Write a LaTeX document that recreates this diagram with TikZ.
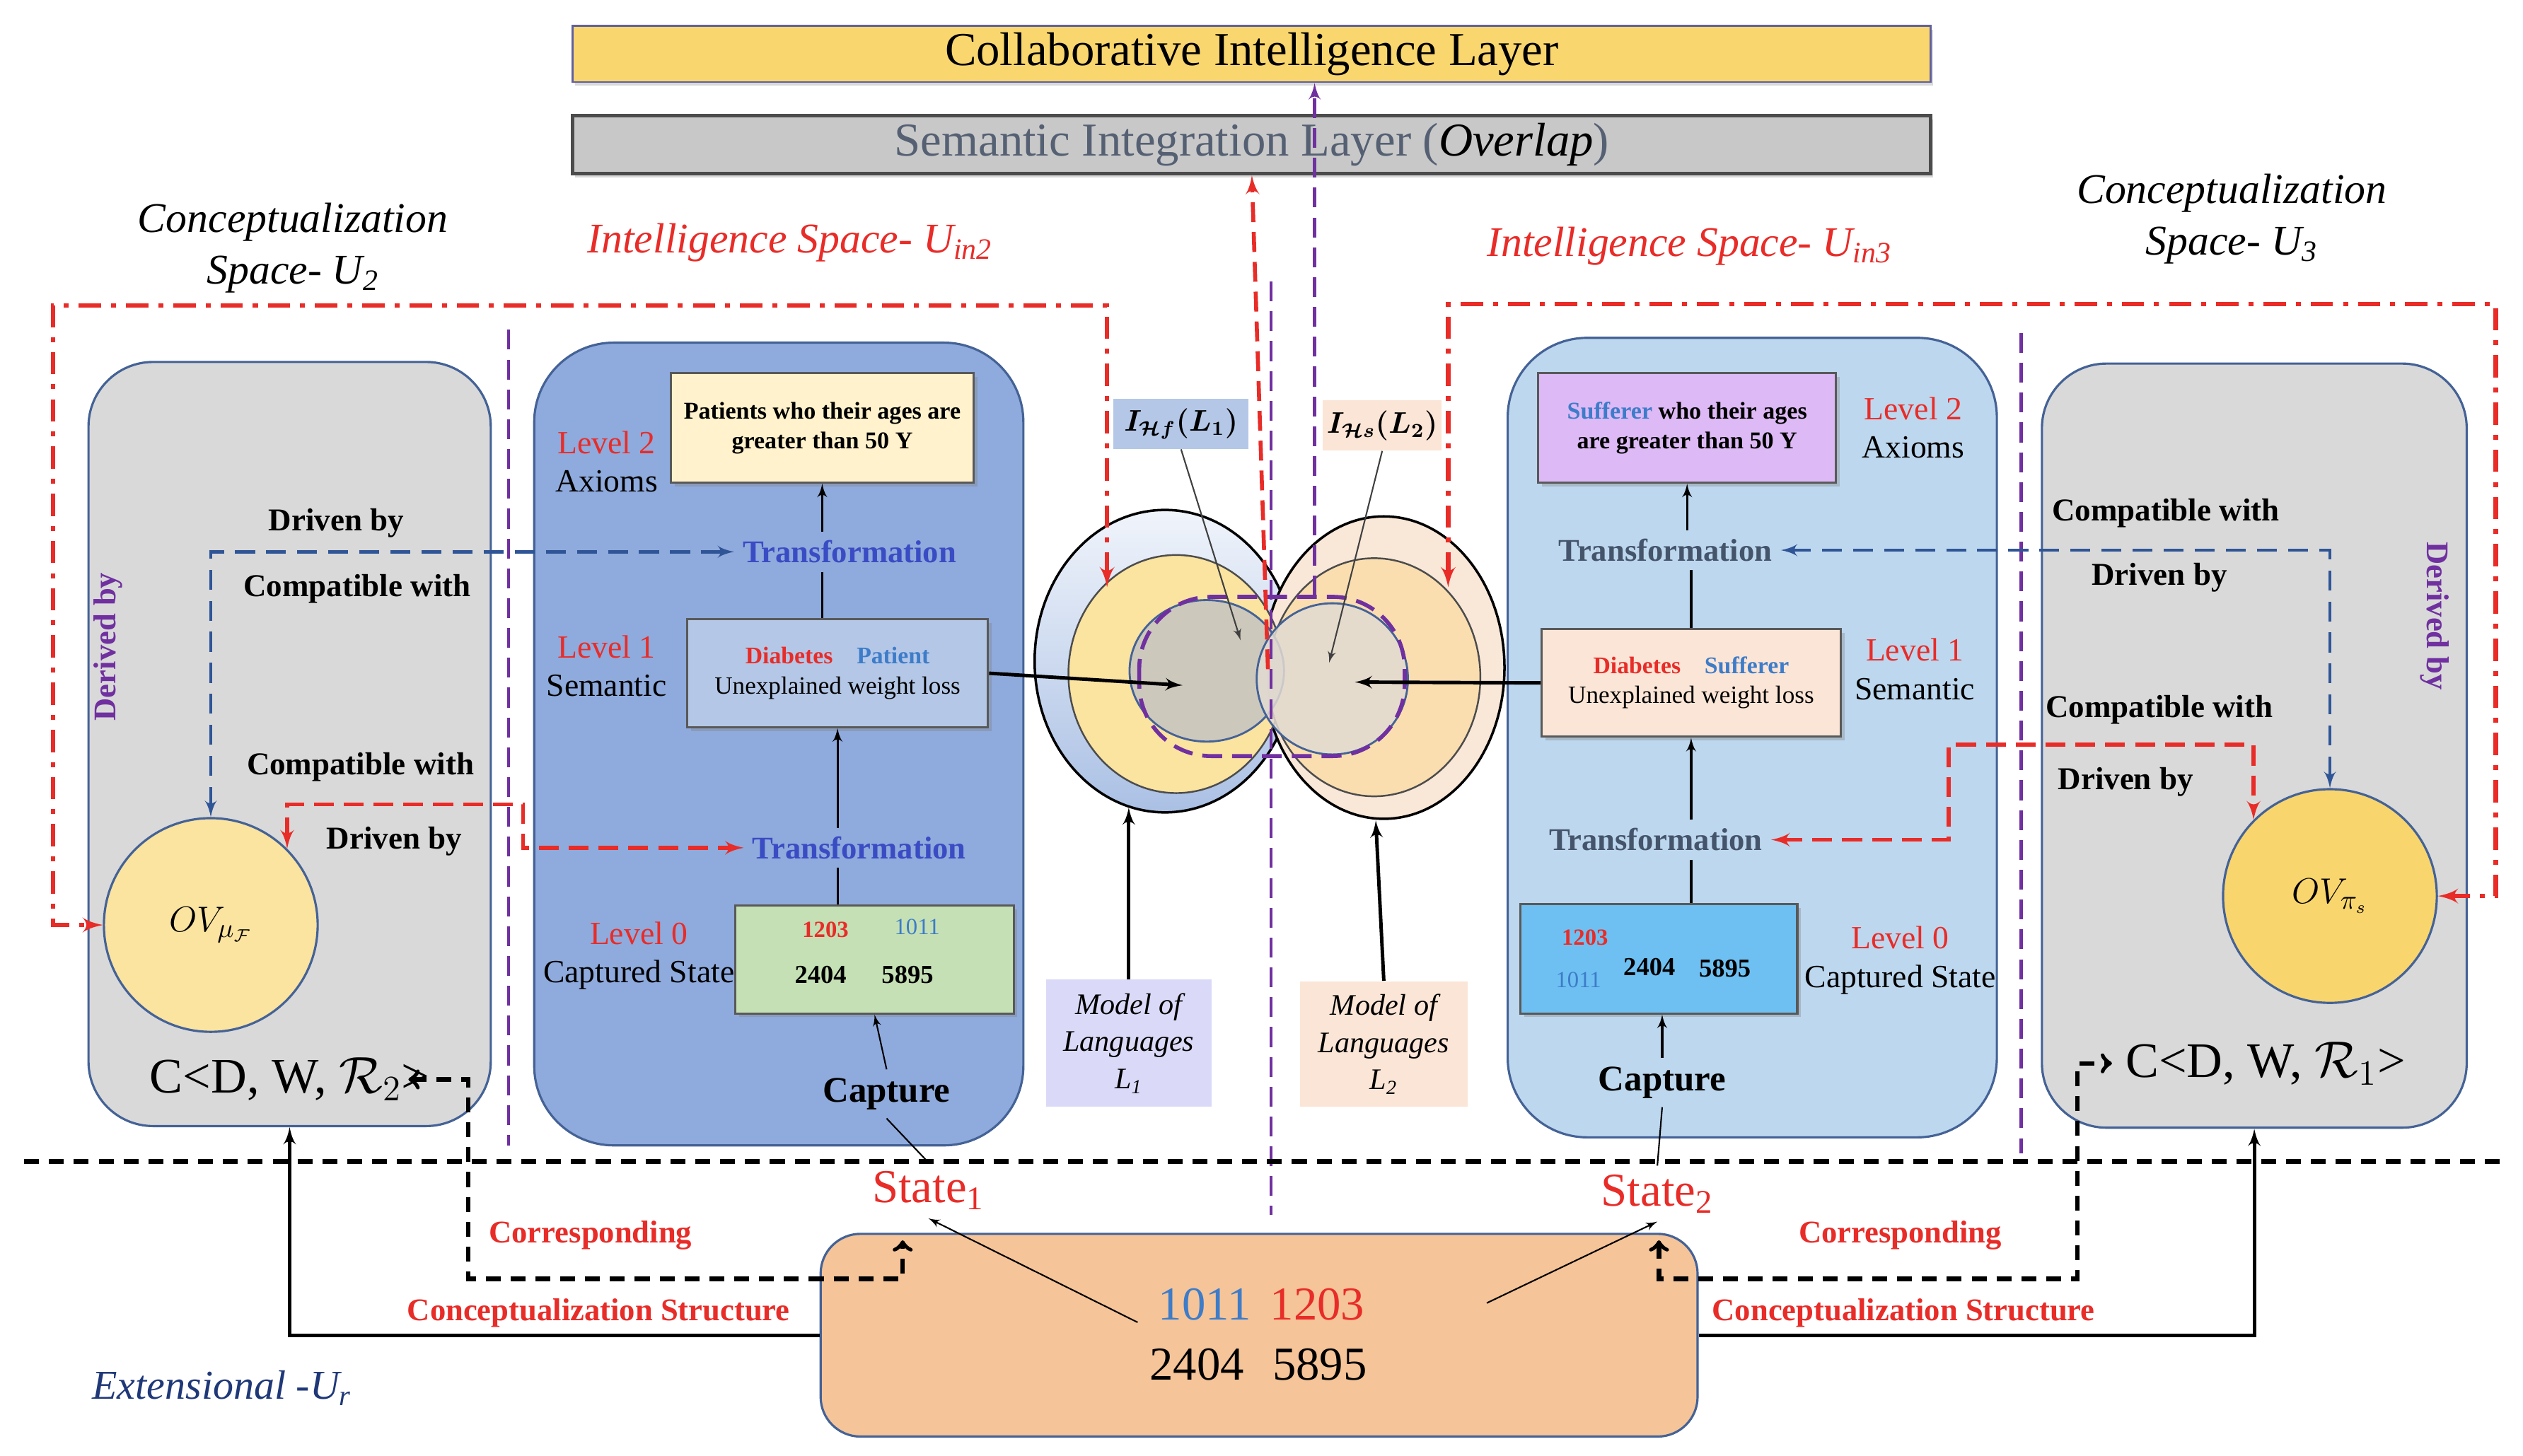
\documentclass[tikz,border=0pt]{standalone}
\usepackage{fontspec}
\setmainfont{Liberation Serif}
\usepackage{amsmath}
\usetikzlibrary{arrows,positioning,fit,shadows}

\definecolor{redT}{RGB}{232,44,40}
\definecolor{blueT}{RGB}{58,76,196}
\definecolor{slateT}{RGB}{68,84,106}
\definecolor{skyT}{RGB}{61,124,201}
\definecolor{purpT}{RGB}{112,48,160}
\definecolor{navyT}{RGB}{31,56,120}
\definecolor{dashB}{RGB}{47,85,151}
\definecolor{boxEdge}{RGB}{68,98,150}
\definecolor{grayBox}{RGB}{217,217,217}
\definecolor{blueMid}{RGB}{143,170,220}
\definecolor{blueLt}{RGB}{189,215,238}
\definecolor{yellowL}{RGB}{249,214,110}
\definecolor{layerG}{RGB}{200,200,200}
\definecolor{layerT}{RGB}{85,96,115}
\definecolor{cream}{RGB}{255,242,204}
\definecolor{paleBlue}{RGB}{180,199,231}
\definecolor{mint}{RGB}{197,224,180}
\definecolor{peach}{RGB}{251,229,214}
\definecolor{lilac}{RGB}{221,185,245}
\definecolor{sky}{RGB}{110,192,242}
\definecolor{orangeB}{RGB}{245,196,152}
\definecolor{lav}{RGB}{218,218,248}
\definecolor{ltTop}{RGB}{240,244,251}
\definecolor{ltBot}{RGB}{170,192,228}
\definecolor{peachC}{RGB}{249,231,216}
\definecolor{yellowC}{RGB}{251,227,160}
\definecolor{yellowP}{RGB}{250,222,176}
\definecolor{grayC}{RGB}{200,198,192}
\definecolor{beigeC}{RGB}{226,219,210}
\definecolor{yellowOV}{RGB}{249,213,110}

\tikzset{font=\fontsize{13}{15.5}\selectfont}
\tikzset{
  spaceframe/.style={draw=redT, line width=1.8pt, dash pattern=on 9pt off 4pt on 2pt off 4pt},
  rdash/.style={draw=redT, line width=1.6pt, dash pattern=on 8pt off 4pt},
  bdash/.style={draw=dashB, line width=1.3pt, dash pattern=on 8pt off 4.5pt},
  pdash/.style={draw=purpT, line width=1.3pt, dash pattern=on 8pt off 4pt},
  kdash/.style={draw=black, line width=1.8pt, dash pattern=on 6pt off 4pt},
  spacebox/.style={draw=boxEdge, line width=0.9pt, inner sep=0pt},
  infobox/.style={draw=black!65, line width=0.9pt, inner sep=0pt,
    drop shadow={opacity=0.35, shadow xshift=1.5pt, shadow yshift=-1.5pt}},
  boxtxt/.style={align=center, inner sep=0pt},
  lvltxt/.style={align=center, font=\fontsize{13}{15.5}\selectfont},
  reltxt/.style={font=\fontsize{12.8}{15}\selectfont\bfseries},
  transtxt/.style={font=\fontsize{12.7}{15}\selectfont\bfseries},
  titletxt/.style={align=center, font=\fontsize{17}{20.7}\selectfont\itshape},
  redlbl/.style={text=redT, font=\fontsize{12.7}{15}\selectfont\bfseries},
  numtxt/.style={font=\fontsize{10.4}{12}\selectfont\bfseries, inner sep=0pt},
  modeltxt/.style={boxtxt, font=\fontsize{12}{15}\selectfont\itshape},
  ovcircle/.style={circle, draw=boxEdge, line width=0.9pt, minimum size=86pt, inner sep=0pt,
    font=\fontsize{15}{18}\selectfont},
  tupletxt/.style={font=\fontsize{20}{24}\selectfont},
  statetxt/.style={text=redT, font=\fontsize{19}{22}\selectfont},
  capturetxt/.style={font=\fontsize{14.5}{17}\selectfont\bfseries},
  derivtxt/.style={text=purpT, font=\fontsize{12.7}{15}\selectfont\bfseries},
}

\begin{document}
\begin{tikzpicture}[x=0.02275cm, y=-0.02275cm]
\useasboundingbox (0,0) rectangle (1568,905);

% layers
\node[fit={(356,16) (1200,51)}, inner sep=0pt, fill=yellowL, draw=blue!25!gray, line width=0.8pt,
  drop shadow={opacity=0.3, shadow xshift=1pt, shadow yshift=-1.5pt}] (layerCI) {};
\node[boxtxt, font=\fontsize{19}{22}\selectfont] (layerCIt) at (layerCI.center) {Collaborative Intelligence Layer};
\node[fit={(356,72) (1200,108)}, inner sep=0pt, fill=layerG, draw=black!70, line width=1.4pt,
  drop shadow={opacity=0.3, shadow xshift=1pt, shadow yshift=-1.5pt}] (layerSI) {};
\node[boxtxt, text=layerT, font=\fontsize{19}{22}\selectfont] (layerSIt) at (layerSI.center) {Semantic Integration Layer ({\color{black}\itshape Overlap})};

% titles
\node[titletxt] (cs2) at (182,154) {Conceptualization\\Space- U\textsubscript{2}};
\node[titletxt, text=redT] (isL) at (491,151) {Intelligence Space- U\textsubscript{in2}};
\node[titletxt, text=redT] (isR) at (1050,153) {Intelligence Space- U\textsubscript{in3}};
\node[titletxt] (cs3) at (1387,136) {Conceptualization\\Space- U\textsubscript{3}};

% spaces
\node[spacebox, fit={(55,225) (305,700)}, rounded corners=26pt, fill=grayBox] (grayL) {};
\node[spacebox, fit={(332,213) (636,712)}, rounded corners=32pt, fill=blueMid] (blueL) {};
\node[spacebox, fit={(937,210) (1241,707)}, rounded corners=32pt, fill=blueLt] (blueR) {};
\node[spacebox, fit={(1269,226) (1533,701)}, rounded corners=26pt, fill=grayBox] (grayR) {};
\node[spacebox, fit={(510,767) (1055,893)}, rounded corners=16pt, fill=orangeB] (orng) {};

% overlapping languages
\coordinate (cLo) at (724,411);
\coordinate (cRo) at (860,415);
\coordinate (cLy) at (731,419);
\coordinate (cRy) at (854,421);
\coordinate (cLi) at (750,417);
\coordinate (cRi) at (828,422);
\path[draw=black, line width=1pt, top color=ltTop, bottom color=ltBot] (cLo) ellipse [x radius=81, y radius=94];
\path[draw=black, line width=1pt, fill=peachC] (cRo) ellipse [x radius=75, y radius=94];
\path[draw=black!70, line width=0.7pt, fill=yellowC] (cLy) ellipse [x radius=67, y radius=74];
\path[draw=black!70, line width=0.7pt, fill=yellowP] (cRy) ellipse [x radius=66, y radius=74];
\path[draw=boxEdge, line width=0.8pt, fill=grayC, fill opacity=0.9] (cLi) ellipse [x radius=48, y radius=44];
\path[draw=boxEdge, line width=0.8pt, fill=beigeC, fill opacity=0.85] (cRi) ellipse [x radius=47, y radius=47];
\draw[pdash, line width=1.6pt, rounded corners=29pt] (708,371) rectangle (873,470);

% dividers
\draw[pdash] (316,205) -- (316,712);
\draw[pdash] (790,175) -- (790,755);
\draw[pdash] (1256,207) -- (1256,717);
\draw[kdash] (15,722) -- (1555,722);

% to the layers
\coordinate (ovlRed) at (788,416);
\coordinate (ovlPur) at (817,370);
\draw[rdash, -latex'] (ovlRed) -- (layerSI.south);
\draw[pdash, -latex'] (ovlPur) -- (ovlPur |- layerCI.south);

% interpretations
\node[fit={(692,248) (776,279)}, inner sep=0pt, fill=paleBlue] (ihf) {};
\node[boxtxt, font=\fontsize{12}{14}\selectfont\boldmath] (ihft) at (ihf.center) {$I_{\mathcal{H}f}(L_1)$};
\node[fit={(822,249) (896,280)}, inner sep=0pt, fill=peach] (ihs) {};
\node[boxtxt, font=\fontsize{12}{14}\selectfont\boldmath] (ihst) at (ihs.center) {$I_{\mathcal{H}s}(L_2)$};
\coordinate (ihfTip) at (771,398);
\coordinate (ihsTip) at (826,412);
\draw[-latex', line width=0.6pt, black!75] (ihf.south) -- (ihfTip);
\draw[-latex', line width=0.6pt, black!75] (ihs.south) -- (ihsTip);

% models of languages
\node[fit={(650,609) (753,688)}, inner sep=0pt, fill=lav] (mdL) {};
\node[modeltxt] (mdLt) at (mdL.center) {Model of\\Languages\\L\textsubscript{1}};
\node[fit={(808,610) (912,688)}, inner sep=0pt, fill=peach] (mdR) {};
\node[modeltxt] (mdRt) at (mdR.center) {Model of\\Languages\\L\textsubscript{2}};
\coordinate (cLoB) at (701.5,502);
\coordinate (cRoB) at (855,510);
\draw[line width=1.4pt, -latex'] (mdL.north) -- (cLoB);
\draw[line width=1.4pt, -latex'] (mdR.north) -- (cRoB);

% intelligence space U_in2
\node[lvltxt] (lv2L) at (377,287) {{\color{redT}Level 2}\\Axioms};
\node[infobox, fit={(417,232) (605,300)}, fill=cream] (axL) {};
\node[boxtxt, font=\fontsize{9.7}{12}\selectfont\bfseries] (axLt) at (axL.center) {Patients who their ages are\\greater than 50 Y};
\node[transtxt, text=blueT] (trL1) at (528,343) {Transformation};
\node[lvltxt] (lv1L) at (377,414) {{\color{redT}Level 1}\\Semantic};
\node[infobox, fit={(427,385) (614,452)}, fill=paleBlue] (semL) {};
\node[boxtxt, font=\fontsize{10}{12}\selectfont] (semLt) at (semL.center)
  {{\fontsize{9.6}{12}\selectfont\bfseries\color{redT}Diabetes\quad\color{skyT}Patient}\\Unexplained weight loss};
\node[transtxt, text=blueT] (trL2) at (534,527) {Transformation};
\node[lvltxt] (lv0L) at (397,594) {{\color{redT}Level 0}\\Captured State};
\node[infobox, fit={(457,563) (630,630)}, fill=mint] (capL) {};
\node[numtxt, text=redT, font=\fontsize{9.3}{11}\selectfont\bfseries] (cl1) at (513,578) {1203};
\node[numtxt, text=skyT, font=\fontsize{9.3}{11}\selectfont] (cl2) at (570,576) {1011};
\node[numtxt] (cl3) at (510,606) {2404};
\node[numtxt] (cl4) at (564,606) {5895};
\node[capturetxt] (cptL) at (551,680) {Capture};

\draw[line width=0.9pt, -latex'] (axL.south |- trL1.north) -- (axL.south);
\draw[line width=0.9pt] (axL.south |- trL1.south) -- (axL.south |- semL.north);
\draw[line width=0.9pt, -latex'] (semL.south |- trL2.north) -- (semL.south);
\draw[line width=0.9pt] (semL.south |- trL2.south) -- (semL.south |- capL.north);
\draw[line width=0.6pt, -latex'] (cptL.north) -- (capL.south);
\coordinate (tipL) at (735,426);
\draw[line width=1.4pt, -latex'] (semL.east) -- (tipL);

% conceptualization space U_2
\node[derivtxt, rotate=90] (derL) at (67,402) {Derived by};
\node[reltxt] (drv1) at (209,325) {Driven by};
\node[reltxt] (cmp1) at (222,366) {Compatible with};
\node[reltxt] (cmp2) at (224,477) {Compatible with};
\node[reltxt] (drv2) at (245,523) {Driven by};
\node[ovcircle, fill=yellowC] (ovL) at (131,575) {$OV_{\mu_{\mathcal{F}}}$};
\node[tupletxt] (csL) at (180,671) {C<D, W, $\mathcal{R}_2$>};

\draw[bdash, latex'-latex'] (ovL.north) |- (trL1.west);
\draw[rdash, latex'-latex'] (ovL.45) |- (325,500) |- (trL2.west);
\coordinate (ringL) at (688,365);
\draw[spaceframe, latex'-latex'] (ringL) |- (33,190) |- (ovL.west);

% intelligence space U_in3
\node[infobox, fit={(956,232) (1141,300)}, fill=lilac] (axR) {};
\node[boxtxt, font=\fontsize{9.7}{12}\selectfont\bfseries] (axRt) at (axR.center) {{\color{skyT}Sufferer} who their ages\\are greater than 50 Y};
\node[lvltxt] (lv2R) at (1189,266) {{\color{redT}Level 2}\\Axioms};
\node[transtxt, text=slateT] (trR1) at (1035,342) {Transformation};
\node[infobox, fit={(958,391) (1144,458)}, fill=peach] (semR) {};
\node[boxtxt, font=\fontsize{10}{12}\selectfont] (semRt) at (semR.center)
  {{\fontsize{9.6}{12}\selectfont\bfseries\color{redT}Diabetes\quad\color{skyT}Sufferer}\\Unexplained weight loss};
\node[lvltxt] (lv1R) at (1190,416) {{\color{redT}Level 1}\\Semantic};
\node[transtxt, text=slateT] (trR2) at (1029,522) {Transformation};
\node[infobox, fit={(945,562) (1117,630)}, fill=sky] (capR) {};
\node[numtxt, text=redT, font=\fontsize{9.3}{11}\selectfont\bfseries] (cr1) at (985,583) {1203};
\node[numtxt, text=skyT, font=\fontsize{9.3}{11}\selectfont] (cr2) at (981,609) {1011};
\node[numtxt] (cr3) at (1025,601) {2404};
\node[numtxt] (cr4) at (1072,602) {5895};
\node[lvltxt] (lv0R) at (1181,597) {{\color{redT}Level 0}\\Captured State};
\node[capturetxt] (cptR) at (1033,673) {Capture};

\draw[line width=0.9pt, -latex'] (axR.south |- trR1.north) -- (axR.south);
\draw[line width=0.9pt] (semR.north |- trR1.south) -- (semR.north);
\draw[line width=0.9pt, -latex'] (semR.south |- trR2.north) -- (semR.south);
\draw[line width=0.9pt] (semR.south |- trR2.south) -- (semR.south |- capR.north);
\draw[line width=0.9pt, -latex'] (cptR.north) -- (cptR.north |- capR.south);
\coordinate (tipR) at (842,424);
\draw[line width=1.4pt, -latex'] (semR.west) -- (tipR);

% conceptualization space U_3
\node[derivtxt, rotate=-90] (derR) at (1513,383) {Derived by};
\node[reltxt] (cmp3) at (1346,319) {Compatible with};
\node[reltxt] (drv3) at (1342,359) {Driven by};
\node[reltxt] (cmp4) at (1342,441) {Compatible with};
\node[reltxt] (drv4) at (1321,486) {Driven by};
\node[ovcircle, fill=yellowOV] (ovR) at (1448,557) {$OV_{\pi_s}$};
\node[tupletxt] (csR) at (1408,661) {C<D, W, $\mathcal{R}_1$>};

\draw[bdash, latex'-latex'] (trR1.east) -| (ovR.north);
\draw[rdash, latex'-latex'] (trR2.east) -| (1211,463) -| (ovR.135);
\coordinate (ringR) at (900,365);
\draw[spaceframe, latex'-latex'] (ringR) |- (1551,189) |- (ovR.east);

% extensional
\node[statetxt] (st1) at (577,740) {State\textsubscript{1}};
\node[statetxt] (st2) at (1030,742) {State\textsubscript{2}};
\node[font=\fontsize{19}{22}\selectfont] (num1) at (784,811) {{\color{skyT}1011}\hspace{0.4em}{\color{redT}1203}};
\node[font=\fontsize{19}{22}\selectfont] (num2) at (782,848) {2404\hspace{0.6em}5895};
\node[redlbl] (cor1) at (367,768) {Corresponding};
\node[redlbl] (cst1) at (372,816) {Conceptualization Structure};
\node[redlbl] (cor2) at (1181,768) {Corresponding};
\node[redlbl] (cst2) at (1183,816) {Conceptualization Structure};
\node[font=\fontsize{16.5}{20}\selectfont\itshape, text=navyT] (ext) at (138,863) {Extensional -U\textsubscript{r}};

\draw[line width=0.6pt] (cptL.south) -- (st1.north);
\draw[line width=0.6pt] (cptR.south) -- (st2.north);
\coordinate (o1) at (707,822);
\coordinate (o2) at (924,810);
\draw[line width=0.6pt, -latex'] (o1) -- (st1.south);
\draw[line width=0.6pt, -latex'] (o2) -- (st2.south);
\coordinate (corrL) at (561,771);
\coordinate (corrR) at (1031,771);
\draw[kdash, <->] ([xshift=-12pt]csL.east) -| (291,795) -| (corrL);
\draw[kdash, <->] (corrR) |- (1291,795) |- ([xshift=-2pt]csR.west);
\draw[line width=1.4pt, -latex'] (orng.west) -| (grayL.south);
\draw[line width=1.4pt, -latex'] (orng.east) -| (grayR.south);
\end{tikzpicture}
\end{document}
